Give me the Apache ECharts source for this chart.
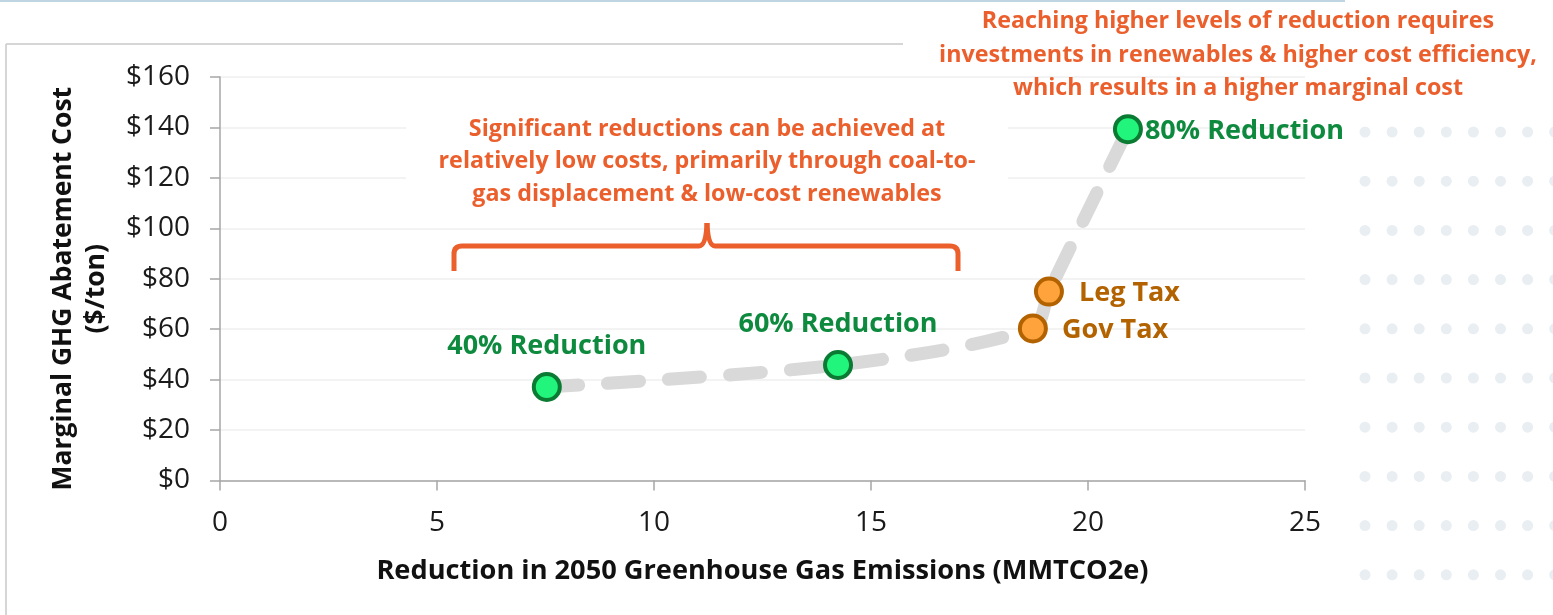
<!DOCTYPE html>
<html>
<head>
<meta charset="utf-8">
<title>Marginal GHG Abatement Cost</title>
<script src="https://cdn.jsdelivr.net/npm/echarts@6/dist/echarts.min.js"></script>
<style type="text/css">
html, body{
    margin: 0;
    padding: 0;
    background: #ffffff;
}
#chart{
    width: 1553px;
    height: 615px;
}
</style>
</head>
<body>
<div id="chart"></div>
<script>
// values
var pointNames   = ['40% Reduction', '60% Reduction', 'Gov Tax', 'Leg Tax', '80% Reduction'];
var reductionMMT = [7.53, 14.24, 18.73, 19.10, 20.92];
var costPerTon   = [37.1, 45.8, 60.3, 74.9, 139.3];
var pointKind    = ['target', 'target', 'tax', 'tax', 'target'];

var xTicks = [0, 5, 10, 15, 20, 25];
var yTicks = [0, 20, 40, 60, 80, 100, 120, 140, 160];

var noteLow  = ['Significant reductions can be achieved at',
                'relatively low costs, primarily through coal-to-',
                'gas displacement & low-cost renewables'];
var noteHigh = ['Reaching higher levels of reduction requires',
                'investments in renewables & higher cost efficiency,',
                'which results in a higher marginal cost'];

var FONT = "'Open Sans', 'Noto Sans', sans-serif";
var ORANGE_NOTE = '#eb5f2d';

var chart = echarts.init(document.getElementById('chart'));

// marker + label look per kind of point
var styleFor = function(kind){
    if(kind == 'tax'){
        return {fill: '#ffa43c', border: '#b36200', text: '#b36200'};
    }
    return {fill: '#22f57c', border: '#0b7a33', text: '#0e8a3e'};
};
var labelPlace = {
    '40% Reduction': {position: 'top', distance: 11, offset: [0, 0]},
    '60% Reduction': {position: 'top', distance: 11, offset: [0, 0]},
    '80% Reduction': {position: 'right', distance: 2, offset: [0, 2]},
    'Leg Tax': {position: 'right', distance: 15, offset: [0, 2]},
    'Gov Tax': {position: 'right', distance: 14, offset: [0, 2]}
};

var scatterData = [];
var lineData = [];
for(var i = 0; i < pointNames.length; i++){
    var st = styleFor(pointKind[i]);
    var lp = labelPlace[pointNames[i]];
    scatterData.push({
        name: pointNames[i],
        value: [reductionMMT[i], costPerTon[i]],
        itemStyle: {color: st.fill, borderColor: st.border, borderWidth: 4, opacity: 1},
        label: {
            show: true,
            position: lp.position,
            distance: lp.distance,
            offset: lp.offset,
            formatter: '{b}',
            color: st.text,
            fontFamily: FONT,
            fontWeight: 'bold',
            fontSize: 27,
            lineHeight: 30
        }
    });
    lineData.push([reductionMMT[i], costPerTon[i]]);
}
lineData.sort(function(a, b){ return a[0] - b[0]; });

// annotation text blocks
var noteGraphics = [];
var addNote = function(lines, cx, y0, step){
    lines.forEach(function(t, k){
        noteGraphics.push({
            type: 'text',
            x: cx, y: y0 + k*step,
            z: 20,
            style: {
                text: t, fill: ORANGE_NOTE,
                font: 'bold 23.3px ' + FONT,
                align: 'center', verticalAlign: 'middle'
            }
        });
    });
};
// white box behind the low-cost note hides the grid lines there
noteGraphics.push({
    type: 'rect', silent: true, z: 19,
    shape: {x: 406, y: 108, width: 602, height: 104},
    style: {fill: '#ffffff'}
});
addNote(noteLow, 707, 129, 32.5);
addNote(noteHigh, 1238, 21.5, 33.5);

// background decoration: dotted pattern on the right and frame lines
var deco = [];
for(var r = 0; r < 10; r++){
    for(var c = 0; c < 8; c++){
        deco.push({
            type: 'circle', silent: true,
            shape: {cx: 1365 + c*27.1, cy: 132 + r*49.2, r: 5.5},
            style: {fill: '#e9eef2'}
        });
    }
}
deco.push({type: 'line', shape: {x1: 0, y1: 1, x2: 1345, y2: 1}, style: {stroke: '#bfd5e2', lineWidth: 2}});
deco.push({type: 'line', shape: {x1: 6, y1: 44, x2: 903, y2: 44}, style: {stroke: '#c9c9c9', lineWidth: 1.5}});
deco.push({type: 'line', shape: {x1: 6, y1: 44, x2: 6, y2: 615}, style: {stroke: '#c9c9c9', lineWidth: 1.5}});

// curly brace above the low-cost region
var braceStyle = {stroke: ORANGE_NOTE, lineWidth: 5, fill: null, lineCap: 'butt'};
var braceParts = [
    {type: 'line', shape: {x1: 454, y1: 271, x2: 454, y2: 254}},
    {type: 'bezierCurve', shape: {x1: 454, y1: 254, cpx1: 454, cpy1: 246, x2: 462, y2: 246}},
    {type: 'line', shape: {x1: 462, y1: 246, x2: 699, y2: 246}},
    {type: 'bezierCurve', shape: {x1: 699, y1: 246, cpx1: 706, cpy1: 246, x2: 707, y2: 223}},
    {type: 'bezierCurve', shape: {x1: 707, y1: 223, cpx1: 708, cpy1: 246, x2: 715, y2: 246}},
    {type: 'line', shape: {x1: 715, y1: 246, x2: 950, y2: 246}},
    {type: 'bezierCurve', shape: {x1: 950, y1: 246, cpx1: 958, cpy1: 246, x2: 958, y2: 254}},
    {type: 'line', shape: {x1: 958, y1: 254, x2: 958, y2: 271}}
];
braceParts.forEach(function(p){
    p.style = braceStyle;
    p.silent = true;
    p.z = 20;
    deco.push(p);
});

var option = {
    animation: false,
    backgroundColor: '#ffffff',
    grid: {left: 220, right: 248, top: 77, bottom: 134.5, containLabel: false},
    xAxis: {
        type: 'value',
        min: xTicks[0], max: xTicks[xTicks.length-1], interval: 5,
        name: 'Reduction in 2050 Greenhouse Gas Emissions (MMTCO2e)',
        nameLocation: 'middle',
        nameGap: 77,
        nameTextStyle: {fontFamily: FONT, fontWeight: 'bold', fontSize: 27.2, color: '#111'},
        axisLine: {show: true, lineStyle: {color: '#a6a6a6', width: 1.5}},
        axisTick: {show: true, length: 10, lineStyle: {color: '#a6a6a6', width: 1.5}},
        axisLabel: {margin: 29, fontFamily: FONT, fontSize: 28, color: '#1a1a1a'},
        splitLine: {show: false}
    },
    yAxis: {
        type: 'value',
        min: yTicks[0], max: yTicks[yTicks.length-1], interval: 20,
        name: 'Marginal GHG Abatement Cost\n($/ton)',
        nameLocation: 'middle',
        nameGap: 107,
        nameRotate: 90,
        nameTextStyle: {fontFamily: FONT, fontWeight: 'bold', fontSize: 26.5, lineHeight: 33, color: '#111', padding: [0, 20, 0, 0]},
        axisLine: {show: true, lineStyle: {color: '#a6a6a6', width: 1.5}},
        axisTick: {show: true, length: 10, lineStyle: {color: '#a6a6a6', width: 1.5}},
        axisLabel: {margin: 30, fontFamily: FONT, fontSize: 28, color: '#1a1a1a',
            formatter: function(v){ return '$' + v; }},
        splitLine: {show: true, lineStyle: {color: '#efefef', width: 1.5}}
    },
    series: [
        {
            type: 'line',
            data: lineData,
            smooth: 0.3,
            showSymbol: false,
            z: 1,
            lineStyle: {color: '#d9d9d9', width: 13, type: [32, 29], cap: 'round'}
        },
        {
            type: 'scatter',
            data: scatterData,
            symbol: 'circle',
            symbolSize: 26,
            z: 3
        }
    ],
    graphic: deco.concat(noteGraphics)
};
chart.setOption(option);
</script>
</body>
</html>
